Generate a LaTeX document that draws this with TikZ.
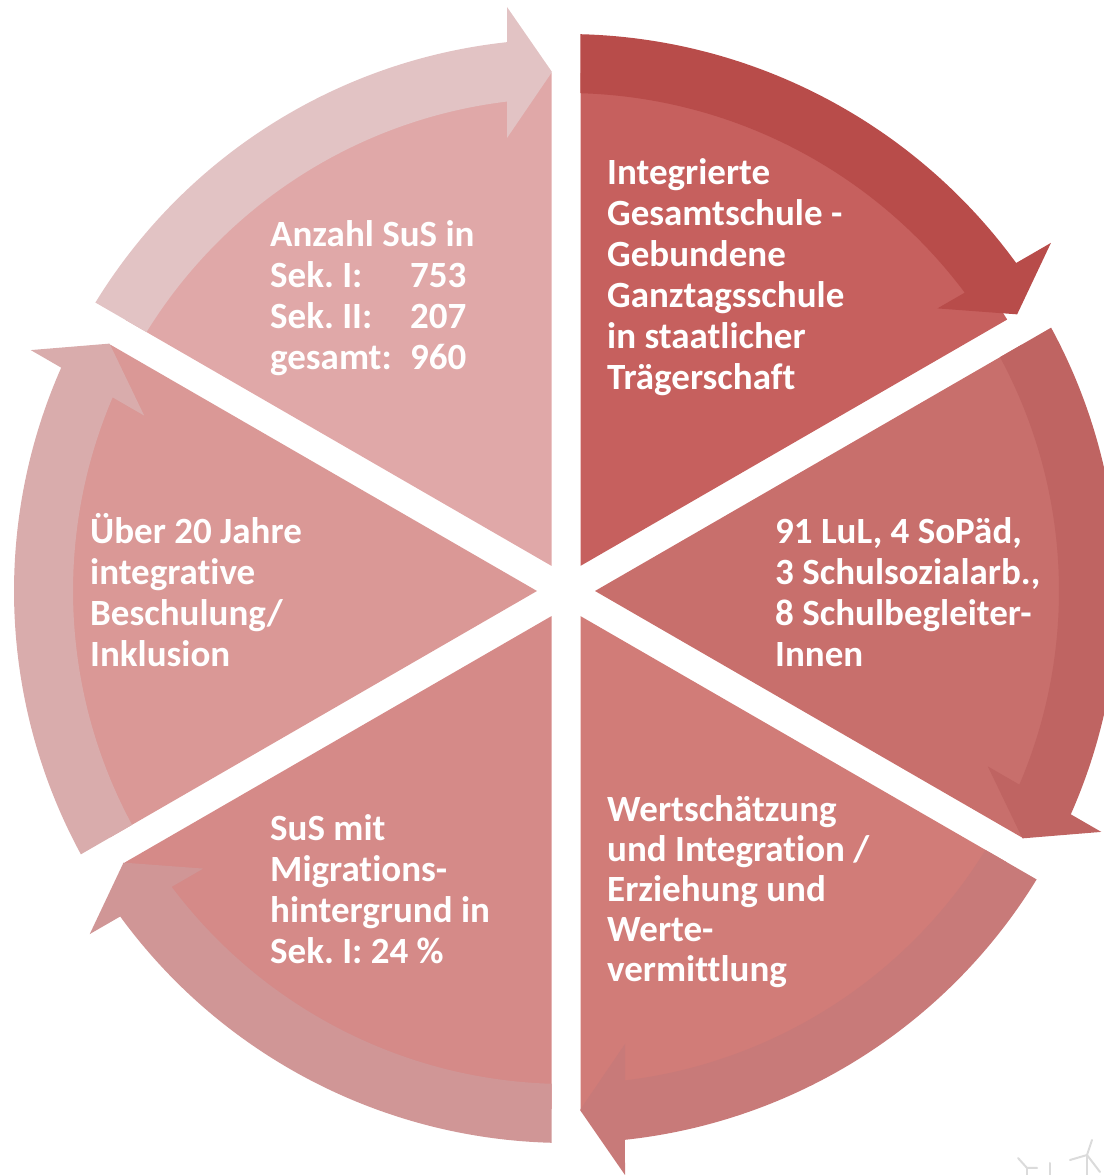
\documentclass[tikz,border=0pt]{standalone}
\usepackage{fontspec}
\setmainfont{Carlito}[Ligatures=NoCommon]
\usetikzlibrary{calc}
\frenchspacing

% segment fills
\definecolor{segTL}{HTML}{E0A8A8}
\definecolor{segTR}{HTML}{C6605E}
\definecolor{segR}{HTML}{C86F6C}
\definecolor{segBR}{HTML}{D17C78}
\definecolor{segBL}{HTML}{D58A88}
\definecolor{segL}{HTML}{DA9896}
% arrow bands
\definecolor{arrTL}{HTML}{E2C3C4}
\definecolor{arrTR}{HTML}{B84C4A}
\definecolor{arrR}{HTML}{BF6462}
\definecolor{arrBR}{HTML}{C87A79}
\definecolor{arrBL}{HTML}{D09696}
\definecolor{arrL}{HTML}{D9ACAC}

% stacked lines whose first baseline is the box baseline
\newcommand\lineblock[2]{\vtop{\baselineskip=#1\lineskiplimit=-\maxdimen
  \halign{##\hfil\cr#2\crcr}}}

% pie segment between gap lines #1 and #1+60 (degrees)
\newcommand\segment[2]{%
  \fill[#2] ($(O)+(#1+30:29)$) -- ($(O)+(#1+1.604:518)$)
    arc[start angle=#1+1.604, end angle=#1+58.396, radius=518] -- cycle;}

% curved arrow running clockwise from gap #1+60 to gap #1
% #3: radial shift of the shaft, #4: radial shift of the head
\newcommand\cyclearrow[4]{%
  \pgfmathsetmacro\bandIn{493+#3}%
  \pgfmathsetmacro\bandOut{552+#3}%
  \pgfmathsetmacro\angOutA{#1+60-asin(14.5/\bandOut)}%
  \pgfmathsetmacro\angOutB{#1+asin(59/\bandOut)}%
  \pgfmathsetmacro\angInA{#1+60-asin(14.5/\bandIn)}%
  \pgfmathsetmacro\angInB{#1+asin(59/\bandIn)}%
  \fill[#2] ($(O)+(\angOutA:\bandOut)$)
    arc[start angle=\angOutA, end angle=\angOutB, radius=\bandOut]
    -- ($(O)+(#1:584+#4)+(#1+90:59)$)
    -- ($(O)+(#1:519+#4)+(#1+90:14)$)
    -- ($(O)+(#1:453+#4)+(#1+90:59)$)
    -- ($(O)+(\angInB:\bandIn)$)
    arc[start angle=\angInB, end angle=\angInA, radius=\bandIn] -- cycle;}

\tikzset{
  label text/.style={text=white, inner sep=0pt, anchor=base west,
    font=\fontsize{37pt}{41pt}\selectfont\bfseries},
  turbine/.style={draw=black!14, line width=2pt, line cap=round}
}

\begin{document}
\begin{tikzpicture}[x=1pt, y=1pt]
  \useasboundingbox (0,0) rectangle (1103,1175);
  \coordinate (O) at (566,584);

  % six segments
  \segment{90}{segTL}
  \segment{30}{segTR}
  \segment{-30}{segR}
  \segment{-90}{segBR}
  \segment{210}{segBL}
  \segment{150}{segL}

  % arrows around the ring
  \cyclearrow{30}{arrTR}{5}{10}
  \cyclearrow{-30}{arrR}{0}{0}
  \cyclearrow{-90}{arrBR}{0}{0}
  \cyclearrow{210}{arrBL}{0}{0}
  \cyclearrow{150}{arrL}{0}{0}
  \cyclearrow{90}{arrTL}{0}{0}

  % segment texts
  \node[label text] (traeger) at (607,990) {\lineblock{41pt}{Integrierte\cr
    Gesamtschule -\cr Gebundene\cr Ganztagsschule\cr in staatlicher\cr Trägerschaft}};
  \node[label text] (personal) at (775,631) {\lineblock{41pt}{91 LuL, 4 SoPäd,\cr
    3 Schulsozialarb.,\cr 8 Schulbegleiter-\cr Innen}};
  \node[label text] (werte) at (607,353) {\lineblock{40pt}{Wertschätzung\cr
    und Integration /\cr Erziehung und\cr Werte-\cr vermittlung}};
  \node[label text] (migration) at (270,334) {\lineblock{41pt}{SuS mit\cr
    Migrations-\cr hintergrund in\cr Sek. I: 24 \%}};
  \node[label text] (inklusion) at (90,631) {\lineblock{41pt}{Über 20 Jahre\cr
    integrative\cr Beschulung/\cr Inklusion}};
  \node[label text] (anzahl) at (270,928) {\lineblock{41pt}{Anzahl SuS in\cr
    \makebox[140pt][l]{Sek. I:}753\cr
    \makebox[140pt][l]{Sek. II:}207\cr
    \makebox[140pt][l]{gesamt:}960}};

  % faint wind turbines in the corner
  \draw[turbine] (1087,0) -- (1087,20);
  \draw[turbine] (1087,20) -- (1092,35) (1087,20) -- (1070,15) (1087,20) -- (1100,3);
  \draw[turbine] (1027,0) -- (1027,7);
  \draw[turbine] (1027,7) -- (1018,17) (1027,7) -- (1037,7);
  \draw[turbine] (1050,0) -- (1050,12);
\end{tikzpicture}
\end{document}
